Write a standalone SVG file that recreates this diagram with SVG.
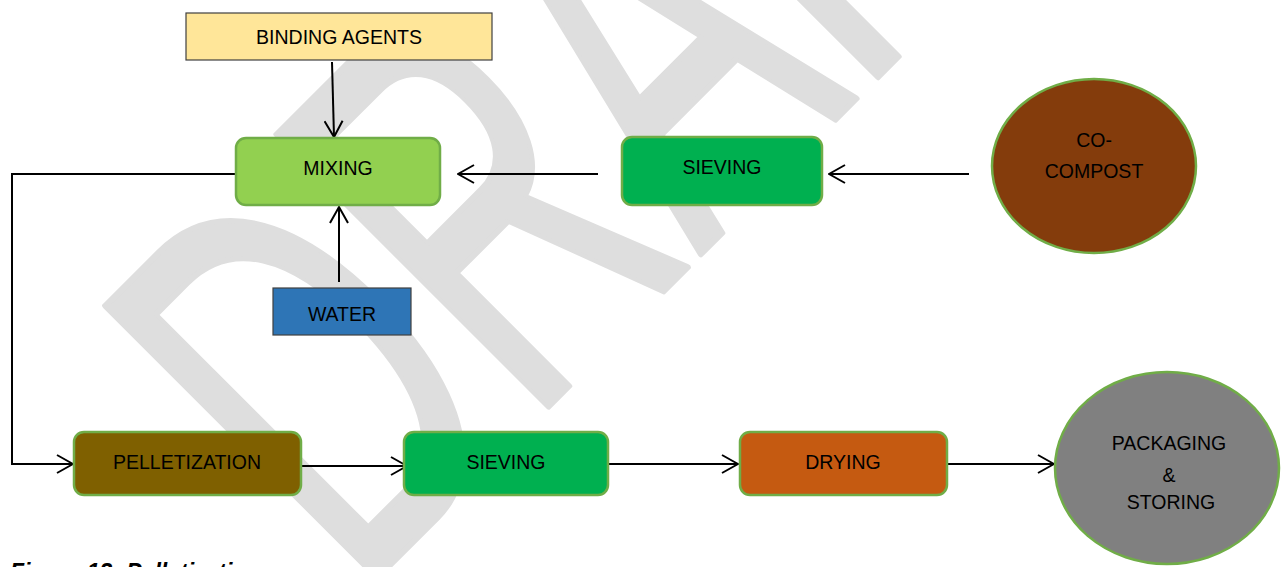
<svg xmlns="http://www.w3.org/2000/svg" width="1281" height="567" viewBox="0 0 1281 567">
  <defs>
    <marker id="arrow" viewBox="0 0 18 20" refX="17" refY="10" markerWidth="18" markerHeight="20" markerUnits="userSpaceOnUse" orient="auto">
      <path d="M1,1 L17,10 L1,19" fill="none" stroke="#000" stroke-width="2"/>
    </marker>
  </defs>
  <style>
    .lbl { font-family: "Liberation Sans", Arial, sans-serif; font-size: 19.5px; fill: #000; text-anchor: middle; }
    .rbox { stroke: #70AD47; stroke-width: 2.5; }
    .sbox { stroke: #404040; stroke-width: 1.2; }
    .conn { fill: none; stroke: #000; stroke-width: 2; }
    .wm { font-family: "Liberation Sans", Arial, sans-serif; font-size: 559px; fill: #dedede; stroke: #dedede; stroke-width: 6; stroke-linejoin: round; }
  </style>
  <rect width="1281" height="567" fill="#ffffff"/>
  <text class="wm" x="0" y="0" transform="translate(357 598) rotate(-45) scale(0.6 1)">DRAFT</text>

  <g id="connectors">
    <path class="conn" d="M332,62 L334,137" marker-end="url(#arrow)"/>
    <path class="conn" d="M339,282 L339,207" marker-end="url(#arrow)"/>
    <path class="conn" d="M598,174 L458,174" marker-end="url(#arrow)"/>
    <path class="conn" d="M969,174 L829,174" marker-end="url(#arrow)"/>
    <path class="conn" d="M236,174 H12 V464 H73" marker-end="url(#arrow)"/>
    <path class="conn" d="M296,466 L407,466" marker-end="url(#arrow)"/>
    <path class="conn" d="M608,464 L738,464" marker-end="url(#arrow)"/>
    <path class="conn" d="M947,464 L1054,464" marker-end="url(#arrow)"/>
  </g>

  <g id="binding-agents">
    <rect class="sbox" x="186" y="13" width="306" height="47" fill="#FFE699"/>
    <text class="lbl" x="339" y="44">BINDING AGENTS</text>
  </g>
  <g id="mixing">
    <rect class="rbox" x="236" y="138" width="204" height="67" rx="10" fill="#92D050"/>
    <text class="lbl" x="338" y="175">MIXING</text>
  </g>
  <g id="sieving-1">
    <rect class="rbox" x="622" y="137" width="200" height="68" rx="10" fill="#00B050"/>
    <text class="lbl" x="722" y="174">SIEVING</text>
  </g>
  <g id="co-compost">
    <ellipse class="rbox" cx="1094" cy="166" rx="102" ry="87" fill="#843C0C"/>
    <text class="lbl" x="1094" y="147">CO-</text>
    <text class="lbl" x="1094" y="178">COMPOST</text>
  </g>
  <g id="water">
    <rect class="sbox" x="273" y="288" width="138" height="47" fill="#2E75B6"/>
    <text class="lbl" x="342" y="321">WATER</text>
  </g>
  <g id="pelletization">
    <rect class="rbox" x="74" y="432" width="227" height="63" rx="10" fill="#7F6000"/>
    <text class="lbl" x="187" y="469">PELLETIZATION</text>
  </g>
  <g id="sieving-2">
    <rect class="rbox" x="404" y="432" width="204" height="63" rx="10" fill="#00B050"/>
    <text class="lbl" x="506" y="469">SIEVING</text>
  </g>
  <g id="drying">
    <rect class="rbox" x="740" y="432" width="207" height="63" rx="10" fill="#C55A11"/>
    <text class="lbl" x="843" y="469">DRYING</text>
  </g>
  <g id="packaging-storing">
    <ellipse class="rbox" cx="1167" cy="468" rx="112" ry="96" fill="#808080"/>
    <text class="lbl" x="1169" y="450">PACKAGING</text>
    <text class="lbl" x="1169" y="482">&amp;</text>
    <text class="lbl" x="1171" y="509">STORING</text>
  </g>
  <text x="10" y="580" font-family="Liberation Sans, Arial, sans-serif" font-size="23" font-weight="bold" font-style="italic" fill="#000">Figure 12: Pelletization</text>
</svg>
